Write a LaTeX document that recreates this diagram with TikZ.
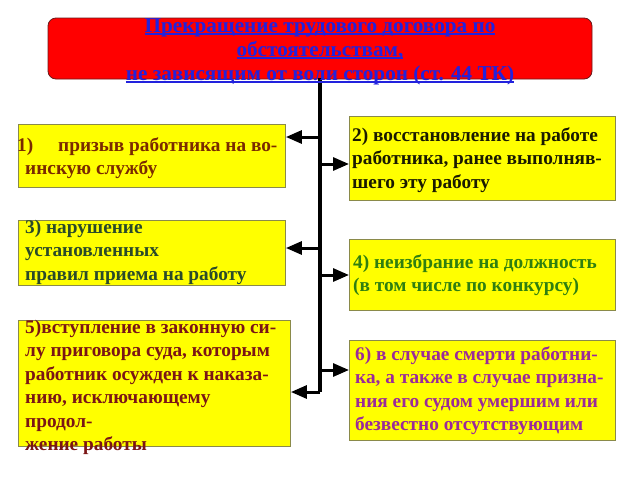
\documentclass[tikz,border=0pt]{standalone}
\usepackage{fontspec}
\setmainfont{Liberation Serif}
\usetikzlibrary{arrows.meta}
\definecolor{titlered}{HTML}{FF0000}
\definecolor{titleborder}{HTML}{6A1A1A}
\definecolor{titleblue}{HTML}{2222DD}
\definecolor{boxborder}{HTML}{8A8A4A}
\definecolor{boxfill}{HTML}{FFFF00}
\definecolor{cone}{HTML}{7A2A00}
\definecolor{ctwo}{HTML}{1A1A00}
\definecolor{cthree}{HTML}{2A4A2A}
\definecolor{cfour}{HTML}{2F7F10}
\definecolor{cfive}{HTML}{7A1515}
\definecolor{csix}{HTML}{9A2A9A}
\newcommand{\ul}[1]{\setbox0\hbox{#1}\rlap{\rule[-2.6pt]{\wd0}{1.3pt}}\box0}
\begin{document}
\begin{tikzpicture}[x=1pt,y=-1pt,
  titlebox/.style={draw=titleborder, fill=titlered, line width=0.8pt, rounded corners=8pt, inner sep=0pt},
  boxst/.style={draw=boxborder, fill=boxfill, line width=0.9pt, rectangle, inner sep=0pt, anchor=north west},
  txt/.style={font=\fontsize{19.3}{23.5}\selectfont\bfseries, anchor=base west, inner sep=0pt},
  ttxt/.style={font=\fontsize{21.2}{24}\selectfont\bfseries, anchor=base, inner sep=0pt, text=titleblue},
  conn/.style={line width=3pt, -{Triangle[length=16pt,width=13pt]}},
  trunk/.style={line width=3.2pt}
]
\useasboundingbox (0,0) rectangle (640,480);

% title
\node[titlebox, minimum width=544pt, minimum height=61pt] (title) at (320,48.5) {};

% boxes
\node[boxst, minimum width=267pt, minimum height=63pt] (b1) at (18,124) {};
\node[boxst, minimum width=266pt, minimum height=84pt] (b2) at (349,116) {};
\node[boxst, minimum width=267pt, minimum height=65pt] (b3) at (18,220) {};
\node[boxst, minimum width=266pt, minimum height=71pt] (b4) at (349,239) {};
\node[boxst, minimum width=272pt, minimum height=126pt] (b5) at (18,320) {};
\node[boxst, minimum width=266pt, minimum height=100pt] (b6) at (349,340) {};

% connectors
\coordinate (jtop) at (320,78);
\coordinate (j1) at (320,137);
\coordinate (j2) at (320,164);
\coordinate (j3) at (320,248);
\coordinate (j4) at (320,275);
\coordinate (j6) at (320,370);
\coordinate (j5) at (320,392);
\draw[trunk] (jtop) -- (j5);
\draw[conn] (j1) -- (j1 -| b1.east);
\draw[conn] (j2) -- (j2 -| b2.west);
\draw[conn] (j3) -- (j3 -| b3.east);
\draw[conn] (j4) -- (j4 -| b4.west);
\draw[conn] (j6) -- (j6 -| b6.west);
\draw[conn] (j5) -- (j5 -| b5.east);

% title text
\node[ttxt] (tt) at (320,32) {\vtop{\halign{\hfil#\hfil\cr
  \ul{Прекращение трудового договора по}\cr
  \ul{обстоятельствам,}\cr
  \ul{не зависящим от воли сторон (ст. 44 ТК)}\cr}}};

% box texts
\node[txt, text=cone] (t1) at (25,151) {\vtop{
  \hbox{\hspace*{-8pt}\makebox[41pt][l]{1)}призыв работника на во-}
  \hbox{инскую службу}}};
\node[txt, text=ctwo] (t2) at (352,141) {\vtop{
  \hbox{2) восстановление на работе}
  \hbox{работника, ранее выполняв-}
  \hbox{шего эту работу}}};
\node[txt, text=cthree] (t3) at (25,233) {\vtop{
  \hbox{3) нарушение}
  \hbox{установленных}
  \hbox{правил приема на работу}}};
\node[txt, text=cfour] (t4) at (353,268) {\vtop{
  \hbox{4) неизбрание на должность}
  \hbox{(в том числе по конкурсу)}}};
\node[txt, text=cfive] (t5) at (25,333) {\vtop{
  \hbox{5)вступление в законную си-}
  \hbox{лу приговора суда, которым}
  \hbox{работник осужден к наказа-}
  \hbox{нию, исключающему}
  \hbox{продол-}
  \hbox{жение работы}}};
\node[txt, text=csix] (t6) at (355,360) {\vtop{
  \hbox{6) в случае смерти работни-}
  \hbox{ка, а также в случае призна-}
  \hbox{ния его судом умершим или}
  \hbox{безвестно отсутствующим}}};
\end{tikzpicture}
\end{document}
